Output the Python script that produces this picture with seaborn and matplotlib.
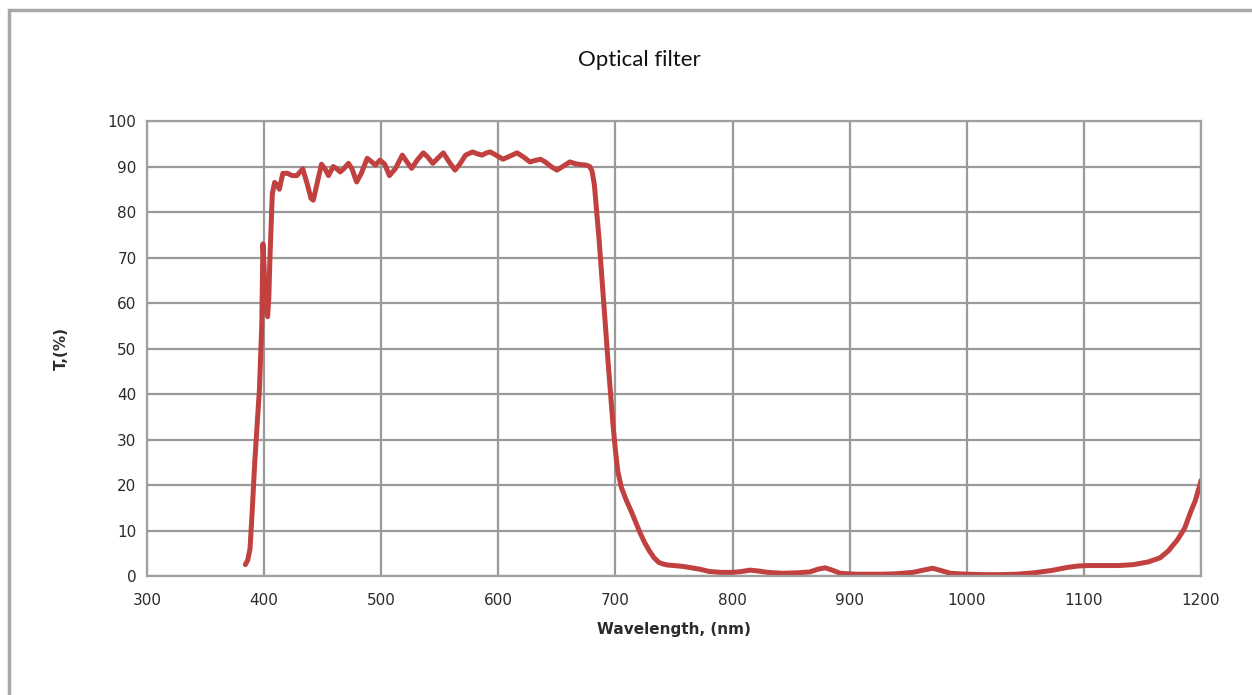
# Optical filter transmission curve, redrawn from the reference picture

import pandas as pd
import seaborn as sns
import matplotlib.pyplot as plt
from matplotlib.patches import Rectangle

# wavelength (nm) and transmission (%)
wavelength = [384, 386, 388, 390, 392, 394, 396, 398, 399, 400, 401, 403, 404, 405, 407, 409,
              411, 413, 416, 420, 424, 428, 433, 437, 440, 442, 445, 449, 452, 455, 459, 462,
              465, 468, 472, 475, 479, 483, 488, 492, 495, 499, 503, 507, 512, 518, 522, 526,
              531, 536, 540, 544, 549, 553, 558, 563, 567, 572, 578, 582, 586, 590, 593, 598,
              604, 610, 616, 622, 627, 631, 636, 640, 645, 650, 655, 661, 666, 671, 675, 678,
              680, 682, 684, 686, 688, 690, 692, 694, 696, 698, 700, 702, 705, 709, 713, 717,
              721, 725, 729, 733, 737, 741, 745, 750, 758, 765, 772, 780, 790, 800, 808, 815,
              822, 830, 843, 855, 866, 873, 879, 885, 892, 905, 918, 928, 940, 954, 963, 971,
              978, 986, 1000, 1015, 1028, 1043, 1057, 1072, 1086, 1095, 1103, 1115, 1130, 1142,
              1155, 1165, 1172, 1180, 1186, 1191, 1195, 1199, 1200]
transmission = [2.5, 3.5, 6, 15, 25, 33, 41, 55, 73, 68, 60, 57, 61, 70, 84, 86.5,
                86, 85, 88.5, 88.5, 88, 88, 89.5, 86, 83, 82.6, 86, 90.5, 89.5, 88, 90, 89.5,
                88.8, 89.5, 90.7, 89.5, 86.6, 88.5, 91.8, 91, 90.3, 91.4, 90.5, 88, 89.5, 92.5, 91, 89.6,
                91.5, 93, 92, 90.7, 92, 93, 91, 89.2, 90.5, 92.5, 93.2, 92.8, 92.5, 93, 93.2, 92.5,
                91.6, 92.3, 93, 92, 91, 91.3, 91.6, 91, 90, 89.2, 90, 91, 90.6, 90.4, 90.3, 90,
                89, 86, 80, 74, 67, 60, 53, 46, 39.5, 33, 27.5, 23, 19.5, 16.8, 14.5, 12,
                9.5, 7.3, 5.5, 4.0, 3.0, 2.6, 2.4, 2.3, 2.1, 1.8, 1.5, 1.0, 0.8, 0.8, 1.0, 1.3,
                1.1, 0.8, 0.6, 0.7, 0.9, 1.5, 1.8, 1.3, 0.6, 0.4, 0.4, 0.4, 0.5, 0.8, 1.3, 1.7,
                1.2, 0.6, 0.4, 0.3, 0.3, 0.4, 0.7, 1.2, 1.9, 2.2, 2.3, 2.3, 2.3, 2.5,
                3.1, 4.0, 5.5, 8, 10.5, 14, 16.5, 20, 21]

df = pd.DataFrame({"Wavelength": wavelength, "T": transmission})

sns.set_style("white")
plt.rcParams["font.family"] = ["DejaVu Sans"]

fig = plt.figure(figsize=(12.52, 6.95), dpi=100)
ax = fig.add_axes([0.1174, 0.1712, 0.8419, 0.6547])

sns.lineplot(data=df, x="Wavelength", y="T", ax=ax, color="#c0413f", linewidth=3.6, sort=False)

ax.set_xlim(300, 1200)
ax.set_ylim(0, 100)
ax.set_xticks(range(300, 1201, 100))
ax.set_yticks(range(0, 101, 10))
ax.grid(True, color="#9a9a9a", linewidth=1.6)
ax.set_axisbelow(True)
for s in ax.spines.values():
    s.set_color("#a0a0a0")
    s.set_linewidth(1.6)
ax.tick_params(axis="both", labelsize=11, colors="#9a9a9a", labelcolor="#2b2b2b", length=4, width=1.5)
ax.tick_params(axis="x", pad=8)
ax.set_xlabel("Wavelength, (nm)", fontsize=11, fontweight="bold", color="#2b2b2b", labelpad=10)
ax.set_ylabel("T,(%)", fontsize=11, fontweight="bold", color="#2b2b2b", labelpad=28)

fig.text(0.511, 0.914, "Optical filter", fontsize=16, family=["Lato", "DejaVu Sans"],
         ha="center", va="center", color="#111111")

# outer chart border
fig.patches.append(Rectangle((9, -10), 1260, 695, transform=None, fill=False,
                             edgecolor="#a8a8a8", linewidth=2.5))

plt.savefig("out.png", dpi=100)
